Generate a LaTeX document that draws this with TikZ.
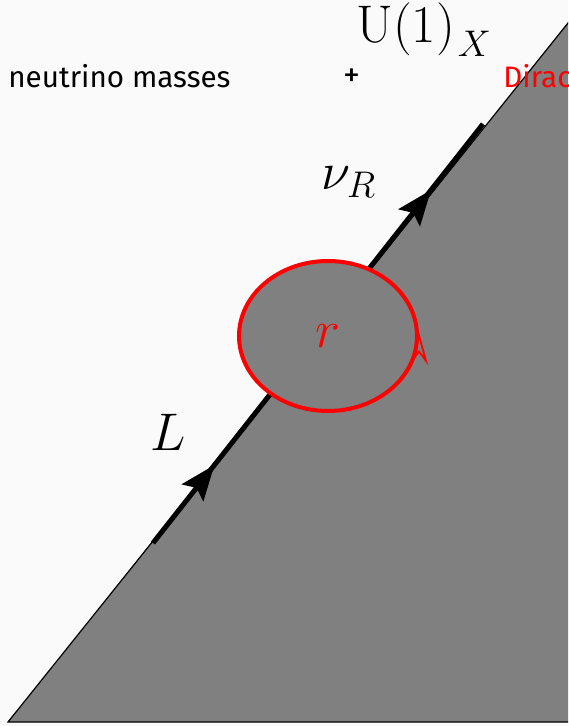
\RequirePackage{fix-cm}
\documentclass[tikz,border=0pt]{standalone}
\usepackage{fontspec}
\newfontfamily\firafont{Fira Sans}
\usetikzlibrary{arrows.meta,decorations.markings,shapes.geometric}
\definecolor{bgcol}{RGB}{250,250,250}
\definecolor{fillgray}{RGB}{128,128,128}
\begin{document}
\begin{tikzpicture}[x=0.5pt,y=-0.5pt,
  mathlbl/.style={inner sep=0pt, font=\fontsize{26.5}{30}\selectfont},
  firalbl/.style={inner sep=0pt, font=\firafont\fontsize{14.8}{18}\selectfont},
  fermion/.style={line width=2.5pt, black,
    postaction={decorate},
    decoration={markings,
      mark=at position 0.186 with {\arrow{Stealth[length=17.5pt,width=13.5pt,inset=3pt]}},
      mark=at position 0.8425 with {\arrow{Stealth[length=17.5pt,width=13.5pt,inset=3pt]}}}},
  loopnode/.style={ellipse, draw=red, fill=fillgray, line width=2pt,
    minimum width=89pt, minimum height=75pt, inner sep=0pt, outer sep=0pt,
    text=red, font=\fontsize{26.5}{30}\selectfont},
  looparrow/.style={red, line width=0.9pt,
    -{Stealth[open,length=16.5pt,width=9pt,inset=6pt]}}
]
\useasboundingbox (0,0) rectangle (568,726);
\clip (0,0) rectangle (568,726);
\fill[bgcol] (0,0) rectangle (568,726);
\filldraw[fill=fillgray, draw=black, line width=0.6pt] (8,722) -- (578,10.5) -- (578,722) -- cycle;

\coordinate (lend) at (153,543);
\coordinate (rend) at (483,124);
\draw[fermion] (lend) -- (rend);

\node[loopnode] (loop) at (328,336) {$r$};
\draw[looparrow] ([xshift=1pt,yshift=-8.5pt]loop.east) -- ([xshift=1pt,yshift=2pt]loop.east);

\node[mathlbl, anchor=base west] (ulab) at (356,43) {$\mathrm{U}(1)_{\kern1.5pt\lower3pt\hbox{$\scriptstyle X$}}$};
\node[mathlbl, anchor=base west] (nulab) at (321,190) {$\nu_R$};
\node[mathlbl, anchor=base west] (llab) at (150,450) {$L$};
\node[firalbl, anchor=base west] (nm) at (8,88) {neutrino masses};
\node[firalbl, font=\firafont\fontsize{17}{19}\selectfont, anchor=center] (plus) at (352,78) {+};
\node[firalbl, text=red, anchor=base west] (dirac) at (503,88) {Dirac};
\end{tikzpicture}
\end{document}
